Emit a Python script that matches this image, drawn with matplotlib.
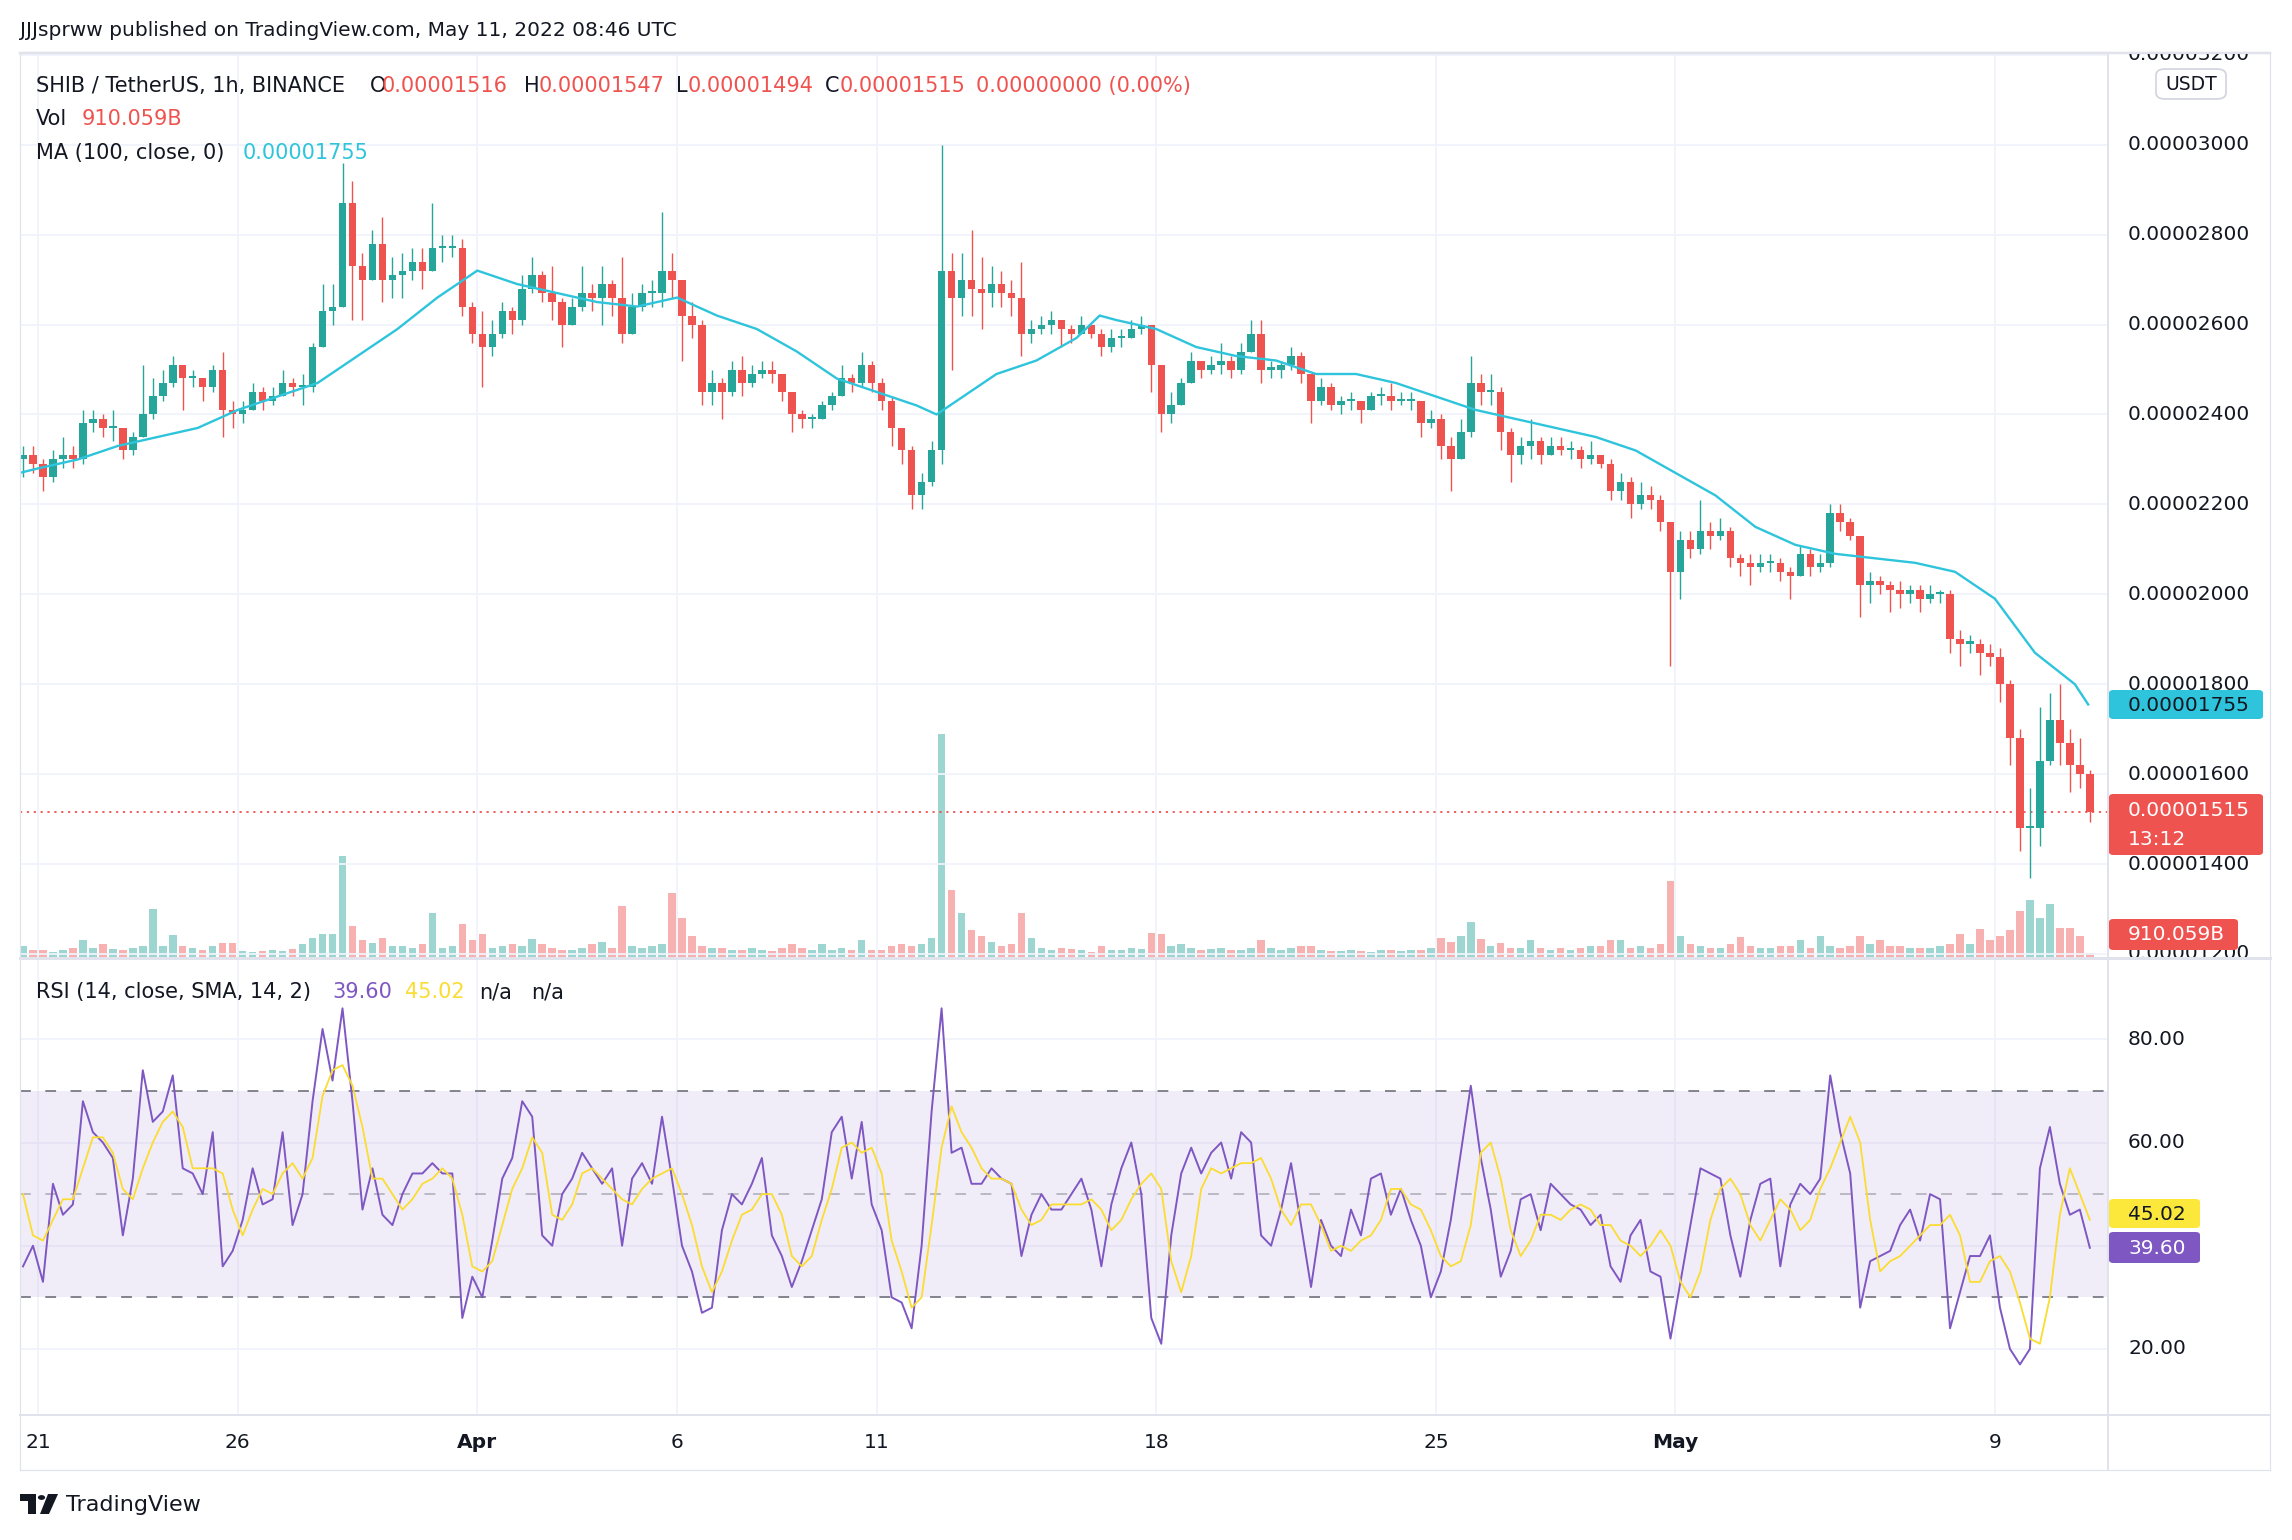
import numpy as np
import pandas as pd
import matplotlib
matplotlib.use("Agg")
import matplotlib.pyplot as plt
import matplotlib.dates as mdates
from matplotlib.patches import FancyBboxPatch, Circle, Polygon
from matplotlib.transforms import Bbox, TransformedBbox, blended_transform_factory

W, H = 2292, 1540

start = "2022-03-20 12:00"
open_first = 2.30
close = [
    2.31, 2.29,                    # Mar 20 (12h, 18h)
    2.26, 2.30, 2.31, 2.30,        # Mar 21
    2.38, 2.39, 2.37, 2.37,        # Mar 22
    2.32, 2.35, 2.40, 2.44,        # Mar 23
    2.47, 2.51, 2.48, 2.48,        # Mar 24
    2.46, 2.50, 2.41, 2.40,        # Mar 25
    2.41, 2.45, 2.43, 2.44,        # Mar 26
    2.47, 2.46, 2.46, 2.55,        # Mar 27
    2.63, 2.64, 2.87, 2.73,        # Mar 28
    2.70, 2.78, 2.70, 2.71,        # Mar 29
    2.72, 2.74, 2.72, 2.77,        # Mar 30
    2.77, 2.77, 2.64, 2.58,        # Mar 31
    2.55, 2.58, 2.63, 2.61,        # Apr 1
    2.68, 2.71, 2.67, 2.65,        # Apr 2
    2.60, 2.64, 2.67, 2.66,        # Apr 3
    2.69, 2.66, 2.58, 2.64,        # Apr 4
    2.67, 2.67, 2.72, 2.70,        # Apr 5
    2.62, 2.60, 2.45, 2.47,        # Apr 6
    2.45, 2.50, 2.47, 2.49,        # Apr 7
    2.50, 2.49, 2.45, 2.40,        # Apr 8
    2.39, 2.39, 2.42, 2.44,        # Apr 9
    2.48, 2.47, 2.51, 2.47,        # Apr 10
    2.43, 2.37, 2.32, 2.22,        # Apr 11
    2.25, 2.32, 2.72, 2.66,        # Apr 12
    2.70, 2.68, 2.67, 2.69,        # Apr 13
    2.67, 2.66, 2.58, 2.59,        # Apr 14
    2.60, 2.61, 2.59, 2.58,        # Apr 15
    2.60, 2.58, 2.55, 2.57,        # Apr 16
    2.57, 2.59, 2.60, 2.51,        # Apr 17
    2.40, 2.42, 2.47, 2.52,        # Apr 18
    2.50, 2.51, 2.52, 2.50,        # Apr 19
    2.54, 2.58, 2.50, 2.50,        # Apr 20
    2.51, 2.53, 2.49, 2.43,        # Apr 21
    2.46, 2.42, 2.43, 2.43,        # Apr 22
    2.41, 2.44, 2.44, 2.43,        # Apr 23
    2.43, 2.43, 2.38, 2.39,        # Apr 24
    2.33, 2.30, 2.36, 2.47,        # Apr 25
    2.45, 2.45, 2.36, 2.31,        # Apr 26
    2.33, 2.34, 2.31, 2.33,        # Apr 27
    2.32, 2.32, 2.30, 2.31,        # Apr 28
    2.29, 2.23, 2.25, 2.20,        # Apr 29
    2.22, 2.21, 2.16, 2.05,        # Apr 30
    2.12, 2.10, 2.14, 2.13,        # May 1
    2.14, 2.08, 2.07, 2.06,        # May 2
    2.07, 2.07, 2.05, 2.04,        # May 3
    2.09, 2.06, 2.07, 2.18,        # May 4
    2.16, 2.13, 2.02, 2.03,        # May 5
    2.02, 2.01, 2.00, 2.01,        # May 6
    1.99, 2.00, 2.00, 1.90,        # May 7
    1.89, 1.89, 1.87, 1.86,        # May 8
    1.80, 1.68, 1.48, 1.48,        # May 9
    1.63, 1.72, 1.67, 1.62,        # May 10
    1.60, 1.515,                   # May 11
]
high = [
    2.33, 2.33,
    2.30, 2.32, 2.35, 2.33,
    2.41, 2.41, 2.40, 2.41,
    2.37, 2.36, 2.51, 2.48,
    2.50, 2.53, 2.51, 2.50,
    2.48, 2.51, 2.54, 2.43,
    2.43, 2.47, 2.46, 2.46,
    2.50, 2.48, 2.49, 2.56,
    2.69, 2.69, 2.96, 2.92,
    2.76, 2.81, 2.84, 2.75,
    2.76, 2.77, 2.77, 2.87,
    2.80, 2.80, 2.79, 2.65,
    2.63, 2.61, 2.65, 2.64,
    2.71, 2.75, 2.72, 2.73,
    2.66, 2.66, 2.73, 2.69,
    2.73, 2.70, 2.75, 2.67,
    2.69, 2.70, 2.85, 2.76,
    2.70, 2.65, 2.61, 2.50,
    2.48, 2.52, 2.53, 2.51,
    2.52, 2.52, 2.49, 2.45,
    2.41, 2.40, 2.43, 2.45,
    2.51, 2.49, 2.54, 2.52,
    2.48, 2.44, 2.36, 2.33,
    2.27, 2.34, 3.00, 2.76,
    2.76, 2.81, 2.75, 2.73,
    2.72, 2.70, 2.74, 2.61,
    2.62, 2.63, 2.61, 2.60,
    2.62, 2.60, 2.59, 2.59,
    2.59, 2.61, 2.62, 2.60,
    2.51, 2.45, 2.48, 2.54,
    2.52, 2.53, 2.56, 2.53,
    2.56, 2.61, 2.61, 2.52,
    2.52, 2.55, 2.54, 2.49,
    2.48, 2.47, 2.44, 2.45,
    2.43, 2.45, 2.46, 2.47,
    2.45, 2.45, 2.43, 2.41,
    2.40, 2.35, 2.39, 2.53,
    2.49, 2.49, 2.46, 2.37,
    2.35, 2.39, 2.35, 2.35,
    2.35, 2.34, 2.33, 2.34,
    2.31, 2.30, 2.27, 2.26,
    2.25, 2.24, 2.22, 2.16,
    2.14, 2.14, 2.21, 2.16,
    2.17, 2.15, 2.09, 2.09,
    2.09, 2.09, 2.08, 2.06,
    2.11, 2.10, 2.09, 2.20,
    2.20, 2.17, 2.13, 2.05,
    2.04, 2.03, 2.03, 2.02,
    2.02, 2.02, 2.01, 2.01,
    1.92, 1.91, 1.90, 1.89,
    1.88, 1.81, 1.70, 1.57,
    1.75, 1.78, 1.80, 1.70,
    1.68, 1.61,
]
low = [
    2.26, 2.27,
    2.23, 2.25, 2.28, 2.28,
    2.29, 2.36, 2.35, 2.34,
    2.30, 2.31, 2.35, 2.39,
    2.43, 2.46, 2.41, 2.46,
    2.43, 2.45, 2.35, 2.37,
    2.38, 2.41, 2.41, 2.42,
    2.45, 2.44, 2.42, 2.45,
    2.55, 2.60, 2.64, 2.61,
    2.61, 2.70, 2.65, 2.66,
    2.66, 2.70, 2.68, 2.73,
    2.74, 2.75, 2.62, 2.56,
    2.46, 2.53, 2.57, 2.58,
    2.60, 2.67, 2.65, 2.61,
    2.55, 2.60, 2.63, 2.63,
    2.60, 2.62, 2.56, 2.58,
    2.63, 2.64, 2.64, 2.66,
    2.52, 2.57, 2.42, 2.42,
    2.39, 2.44, 2.44, 2.46,
    2.48, 2.47, 2.43, 2.36,
    2.37, 2.37, 2.39, 2.41,
    2.44, 2.45, 2.46, 2.45,
    2.41, 2.33, 2.29, 2.19,
    2.19, 2.24, 2.29, 2.50,
    2.62, 2.62, 2.59, 2.64,
    2.64, 2.62, 2.53, 2.56,
    2.58, 2.58, 2.55, 2.56,
    2.58, 2.57, 2.53, 2.54,
    2.55, 2.57, 2.58, 2.45,
    2.36, 2.38, 2.42, 2.47,
    2.48, 2.49, 2.49, 2.48,
    2.49, 2.54, 2.47, 2.48,
    2.48, 2.50, 2.47, 2.38,
    2.42, 2.41, 2.40, 2.41,
    2.38, 2.41, 2.42, 2.41,
    2.42, 2.41, 2.35, 2.37,
    2.30, 2.23, 2.30, 2.35,
    2.42, 2.42, 2.32, 2.25,
    2.29, 2.30, 2.29, 2.31,
    2.31, 2.30, 2.28, 2.29,
    2.28, 2.21, 2.21, 2.17,
    2.19, 2.19, 2.14, 1.84,
    1.99, 2.08, 2.09, 2.10,
    2.12, 2.06, 2.04, 2.02,
    2.05, 2.05, 2.03, 1.99,
    2.04, 2.04, 2.05, 2.06,
    2.14, 2.12, 1.95, 1.98,
    2.00, 1.96, 1.97, 1.98,
    1.96, 1.98, 1.98, 1.87,
    1.84, 1.87, 1.82, 1.84,
    1.76, 1.62, 1.43, 1.37,
    1.44, 1.62, 1.62, 1.56,
    1.57, 1.494,
]
# volume in billions of SHIB (tallest hourly bar inside each 6-hour slot)
volume_b = [
    2200, 1400,
    1400, 1100, 1400, 1800,
    3200, 1800, 2500, 1600,
    1400, 1800, 2200, 8800,
    2200, 4100, 2200, 1800,
    1400, 2200, 2700, 2700,
    1300, 1100, 1300, 1400,
    1300, 1600, 2500, 3600,
    4300, 4300, 18400, 5800,
    3200, 2700, 3600, 2200,
    2200, 1800, 2500, 8100,
    1800, 2200, 6100, 3200,
    4300, 1800, 2200, 2500,
    2200, 3400, 2500, 1800,
    1400, 1400, 1800, 2500,
    2900, 1800, 9400, 2200,
    1800, 2200, 2500, 11700,
    7200, 4000, 2200, 1800,
    1800, 1400, 1400, 1800,
    1400, 1300, 1800, 2500,
    1800, 1400, 2500, 1400,
    1800, 1400, 3200, 1400,
    1400, 2200, 2500, 2200,
    2500, 3600, 40300, 12200,
    8100, 5000, 4000, 2900,
    2200, 2500, 8100, 3600,
    1800, 1400, 1800, 1600,
    1400, 1100, 2200, 1400,
    1400, 1800, 1600, 4500,
    4300, 2200, 2500, 1800,
    1400, 1600, 1800, 1400,
    1400, 1800, 3200, 1800,
    1400, 1800, 2200, 2200,
    1400, 1300, 1300, 1400,
    1300, 1100, 1400, 1400,
    1300, 1400, 1400, 1800,
    3600, 2900, 4000, 6500,
    3400, 2200, 2700, 1800,
    1800, 3200, 1800, 1400,
    1800, 1400, 1800, 2200,
    2200, 3200, 3200, 1800,
    2200, 1800, 2500, 13900,
    4000, 2500, 2200, 1800,
    1800, 2500, 3800, 2200,
    1800, 1800, 2200, 2200,
    3200, 1800, 4000, 2200,
    1800, 2200, 4000, 2500,
    3200, 2200, 2200, 1800,
    1800, 1800, 2200, 2500,
    4300, 2500, 5200, 3200,
    4000, 5000, 8500, 10400,
    7200, 9700, 5400, 5400,
    4000, 910,
]
rsi = [
    36, 40,
    33, 52, 46, 48,
    68, 62, 60, 57,
    42, 53, 74, 64,
    66, 73, 55, 54,
    50, 62, 36, 39,
    45, 55, 48, 49,
    62, 44, 50, 68,
    82, 72, 86, 68,
    47, 55, 46, 44,
    50, 54, 54, 56,
    54, 54, 26, 34,
    30, 41, 53, 57,
    68, 65, 42, 40,
    50, 53, 58, 55,
    52, 55, 40, 53,
    56, 52, 65, 53,
    40, 35, 27, 28,
    43, 50, 48, 52,
    57, 42, 38, 32,
    37, 43, 49, 62,
    65, 53, 64, 48,
    43, 30, 29, 24,
    40, 66, 86, 58,
    59, 52, 52, 55,
    53, 52, 38, 46,
    50, 47, 47, 50,
    53, 47, 36, 48,
    55, 60, 50, 26,
    21, 42, 54, 59,
    54, 58, 60, 53,
    62, 60, 42, 40,
    47, 56, 44, 32,
    45, 40, 38, 47,
    42, 53, 54, 46,
    51, 45, 40, 30,
    35, 45, 58, 71,
    57, 47, 34, 39,
    49, 50, 43, 52,
    50, 48, 47, 44,
    46, 36, 33, 42,
    45, 35, 34, 22,
    33, 44, 55, 54,
    53, 42, 34, 45,
    52, 53, 36, 48,
    52, 50, 53, 73,
    62, 54, 28, 37,
    38, 39, 44, 47,
    41, 50, 49, 24,
    31, 38, 38, 42,
    28, 20, 17, 20,
    55, 63, 52, 46,
    47, 39.60,
]
rsi_ma = [
    50, 42,
    41, 45, 49, 49,
    55, 61, 61, 58,
    51, 49, 55, 60,
    64, 66, 63, 55,
    55, 55, 54, 47,
    42, 47, 51, 50,
    54, 56, 53, 57,
    69, 74, 75, 71,
    63, 53, 53, 50,
    47, 49, 52, 53,
    55, 53, 46, 36,
    35, 37, 44, 51,
    55, 61, 58, 46,
    45, 48, 54, 55,
    53, 51, 49, 48,
    51, 53, 54, 55,
    50, 44, 36, 31,
    35, 41, 46, 47,
    50, 50, 46, 38,
    36, 38, 45, 51,
    59, 60, 58, 59,
    54, 41, 35, 28,
    30, 44, 59, 67,
    62, 59, 55, 53,
    53, 52, 47, 44,
    45, 48, 48, 48,
    48, 49, 47, 43,
    45, 49, 52, 54,
    51, 37, 31, 38,
    51, 55, 54, 55,
    56, 56, 57, 53,
    47, 44, 48, 48,
    44, 39, 40, 39,
    41, 42, 45, 51,
    51, 48, 47, 43,
    38, 36, 37, 44,
    58, 60, 53, 43,
    38, 41, 46, 46,
    45, 47, 48, 47,
    44, 44, 41, 40,
    38, 40, 43, 40,
    33, 30, 35, 45,
    51, 53, 50, 44,
    41, 45, 49, 47,
    43, 45, 51, 55,
    60, 65, 60, 45,
    35, 37, 38, 40,
    42, 44, 44, 46,
    42, 33, 33, 37,
    38, 35, 29, 22,
    21, 30, 46, 55,
    50, 45.02,
]
ma_time = [
    "2022-03-20 13:00", "2022-03-21", "2022-03-22", "2022-03-23", "2022-03-24",
    "2022-03-25", "2022-03-26", "2022-03-27", "2022-03-28", "2022-03-29",
    "2022-03-30", "2022-03-31", "2022-04-01", "2022-04-02", "2022-04-03",
    "2022-04-04", "2022-04-05", "2022-04-06", "2022-04-07", "2022-04-08",
    "2022-04-09", "2022-04-10", "2022-04-11", "2022-04-12", "2022-04-12 12:00",
    "2022-04-13", "2022-04-14", "2022-04-15", "2022-04-16", "2022-04-16 14:00",
    "2022-04-17", "2022-04-18", "2022-04-19", "2022-04-20", "2022-04-21",
    "2022-04-22", "2022-04-23", "2022-04-24", "2022-04-25", "2022-04-26",
    "2022-04-27", "2022-04-28", "2022-04-29", "2022-04-30", "2022-05-01",
    "2022-05-02", "2022-05-03", "2022-05-04", "2022-05-05", "2022-05-06",
    "2022-05-07", "2022-05-08", "2022-05-09", "2022-05-10", "2022-05-11",
    "2022-05-11 08:00",
]
ma_value = [
    2.27, 2.28, 2.30, 2.33, 2.35,
    2.37, 2.41, 2.44, 2.47, 2.53,
    2.59, 2.66, 2.72, 2.69, 2.67,
    2.65, 2.64, 2.66, 2.62, 2.59,
    2.54, 2.48, 2.45, 2.42, 2.40,
    2.43, 2.49, 2.52, 2.57, 2.62,
    2.61, 2.59, 2.55, 2.53, 2.52,
    2.49, 2.49, 2.47, 2.44, 2.41,
    2.39, 2.37, 2.35, 2.32, 2.27,
    2.22, 2.15, 2.11, 2.09, 2.08,
    2.07, 2.05, 1.99, 1.87, 1.80,
    1.755,
]
price_ticks = [1.2, 1.4, 1.6, 1.8, 2.0, 2.2, 2.4, 2.6, 2.8, 3.0, 3.2]
rsi_ticks = [20, 40, 60, 80]
date_ticks = ["2022-03-21", "2022-03-26", "2022-04-01", "2022-04-06", "2022-04-11",
              "2022-04-18", "2022-04-25", "2022-05-01", "2022-05-09"]
date_labels = ["21", "26", "Apr", "6", "11", "18", "25", "May", "9"]

UP, DOWN = "#26a69a", "#ef5350"
TXT = "#131722"
GRID = "#f0f3fa"
BORDER = "#e0e3eb"


def fx(px):
    return px / W


def fy(py):
    return 1 - py / H


fig = plt.figure(figsize=(W / 100, H / 100), dpi=100)
fig.patch.set_facecolor("white")

ax = fig.add_axes([fx(20), fy(958), fx(2108) - fx(20), fy(53) - fy(958)])
ax2 = fig.add_axes([fx(20), fy(1415), fx(2108) - fx(20), fy(958) - fy(1415)], sharex=ax)
axv = ax.twinx()
axv.set_zorder(ax.get_zorder() - 1)
ax.patch.set_visible(False)

n = len(close)
t0 = pd.date_range(start, periods=n, freq="6h")
x = mdates.date2num(t0 + pd.Timedelta(hours=3))
slot = 0.25
c = np.array(close)
op = np.r_[open_first, c[:-1]]
hi = np.maximum.reduce([np.array(high), op, c])
lo = np.minimum.reduce([np.array(low), op, c])
cols = np.where(c >= op, UP, DOWN)

# volume
axv.bar(x, volume_b, width=slot * 0.75, color=cols, alpha=0.45, linewidth=0)
axv.set_ylim(0, 163000)
axv.axis("off")

# candles
ax.vlines(x, lo, hi, colors=cols, lw=1.0, zorder=3)
ax.bar(x, np.maximum(np.abs(c - op), 0.005), bottom=np.minimum(op, c),
       width=slot * 0.75, color=cols, linewidth=0, zorder=4)

# MA(100)
ma_x = mdates.date2num(pd.to_datetime(ma_time, format="ISO8601"))
ax.plot(ma_x, ma_value, color="#2ec4dc", lw=1.7, zorder=5)
ax.axhline(c[-1], color=DOWN, lw=1.3, ls=(0, (1.2, 2.6)), zorder=2)

x_left = mdates.date2num(pd.Timestamp("2022-03-20 13:12"))
x_right = mdates.date2num(pd.Timestamp("2022-05-11 19:55"))
ax.set_xlim(x_left, x_right)
ax.set_ylim(1.191, 3.204)

tick_x = mdates.date2num(pd.to_datetime(date_ticks))
for a in (ax, ax2):
    a.set_xticks(tick_x)
    a.tick_params(length=0, labelleft=False, labelbottom=False, labelright=False)
    a.grid(True, color=GRID, lw=1.3)
    a.set_axisbelow(True)
    for s in a.spines.values():
        s.set_visible(False)
ax.set_yticks(price_ticks)

# RSI pane
ax2.set_ylim(7.2, 95.75)
ax2.set_yticks(rsi_ticks)
ax2.axhspan(30, 70, facecolor="#7e57c2", alpha=0.1, lw=0)
ax2.axhline(70, color="#787b86", lw=1.3, ls=(0, (6, 8)))
ax2.axhline(30, color="#787b86", lw=1.3, ls=(0, (6, 8)))
ax2.axhline(50, color="#787b86", lw=1.3, ls=(0, (6, 8)), alpha=0.5)
ax2.plot(x, rsi, color="#7e57c2", lw=1.4, zorder=4)
ax2.plot(x, rsi_ma, color="#fbdc32", lw=1.3, zorder=5)

# frame lines
for (x0, y0, x1, y1, lw) in [(20, 53, 2270, 53, 2.5), (20, 1470, 2270, 1470, 1.2),
                             (20, 53, 20, 1470, 1.2), (2270, 53, 2270, 1470, 1.2),
                             (20, 958, 2270, 958, 3.0), (20, 1415, 2270, 1415, 2.0),
                             (2108, 53, 2108, 1470, 2.0)]:
    fig.add_artist(plt.Line2D([fx(x0), fx(x1)], [fy(y0), fy(y1)], color=BORDER, lw=lw * 0.72))

FS = 14.5

# right axis labels (clipped to their panes)
price_clip = TransformedBbox(Bbox([[fx(2110), fy(957)], [fx(2268), fy(54)]]), fig.transFigure)
tr = blended_transform_factory(fig.transFigure, ax.transData)
for v in price_ticks:
    t = fig.text(fx(2128), v, f"{v * 1e-5:.8f}", transform=tr, fontsize=FS, color=TXT, va="center")
    t.set_clip_box(price_clip)
    t.set_clip_on(True)
tr2 = blended_transform_factory(fig.transFigure, ax2.transData)
for v in rsi_ticks:
    fig.text(fx(2128), v, f"{v:.2f}", transform=tr2, fontsize=FS, color=TXT, va="center")

# date labels
tr3 = blended_transform_factory(ax2.transData, fig.transFigure)
for xv, lab in zip(tick_x, date_labels):
    fig.text(xv, fy(1443), lab, transform=tr3, fontsize=FS, color=TXT, ha="center", va="center",
             fontweight="bold" if lab in ("Apr", "May") else "normal")


def put(px, py, s, color=TXT, size=15, **kw):
    return fig.text(fx(px), fy(py), s, color=color, fontsize=size, va="center", **kw)


put(20, 31, "JJJsprww published on TradingView.com, May 11, 2022 08:46 UTC", size=14.5)
put(36, 86, "SHIB / TetherUS, 1h, BINANCE")
for lx, letter, vx, val in [(370, "O", 382, "0.00001516"), (524, "H", 539, "0.00001547"),
                            (676, "L", 688, "0.00001494"), (825, "C", 840, "0.00001515")]:
    put(lx, 86, letter)
    put(vx, 86, val, color=DOWN)
put(976, 86, "0.00000000 (0.00%)", color=DOWN)
put(36, 119, "Vol")
put(82, 119, "910.059B", color=DOWN)
put(36, 153, "MA (100, close, 0)")
put(243, 153, "0.00001755", color="#2ec4dc")
put(36, 992, "RSI (14, close, SMA, 14, 2)")
put(332, 992, "39.60", color="#7e57c2")
put(405, 992, "45.02", color="#fbdc32")
put(479, 992, "n/a")
put(531, 992, "n/a")


# right side value tags
def tag(x0, y0, x1, y1, face, z=6):
    fig.add_artist(FancyBboxPatch((fx(x0), fy(y1)), fx(x1) - fx(x0), fy(y0) - fy(y1),
                                  boxstyle="round,pad=0,rounding_size=0.002",
                                  transform=fig.transFigure, facecolor=face, edgecolor="none", zorder=z))


fig.add_artist(FancyBboxPatch((fx(2156), fy(99)), fx(70), fy(69) - fy(99),
                              boxstyle="round,pad=0,rounding_size=0.004", transform=fig.transFigure,
                              facecolor="white", edgecolor="#d1d4dc", lw=1.2, zorder=6))
put(2191, 84, "USDT", size=13.5, ha="center", zorder=7)

tag(2109, 690, 2263, 719, "#2ec4dc")
put(2128, 705, "0.00001755", size=FS, zorder=7)
tag(2109, 794, 2263, 855, DOWN)
put(2128, 810, "0.00001515", color="white", size=FS, zorder=7)
put(2128, 839, "13:12", color="white", size=FS, zorder=7)
tag(2109, 919, 2238, 950, DOWN)
put(2128, 935, "910.059B", color="white", size=FS, zorder=7)
tag(2109, 1199, 2200, 1228, "#fbe83a")
put(2128, 1214, "45.02", size=FS, zorder=7)
tag(2109, 1232, 2200, 1263, "#7e57c2")
put(2128, 1248, "39.60", color="white", size=FS, zorder=7)

# footer logo + name
fig.add_artist(Polygon([[fx(20), fy(1494)], [fx(36), fy(1494)], [fx(36), fy(1514)], [fx(28), fy(1514)],
                        [fx(28), fy(1501)], [fx(20), fy(1501)]], closed=True,
                       transform=fig.transFigure, facecolor=TXT, edgecolor="none"))
fig.add_artist(Circle((fx(41.5), fy(1497.5)), 3.6 / W, transform=fig.transFigure, facecolor=TXT))
fig.add_artist(Polygon([[fx(48), fy(1494)], [fx(58), fy(1494)], [fx(49), fy(1514)], [fx(40), fy(1514)]],
                       closed=True, transform=fig.transFigure, facecolor=TXT, edgecolor="none"))
put(66, 1505, "TradingView", size=16)

fig.savefig("out.png", dpi=100)
